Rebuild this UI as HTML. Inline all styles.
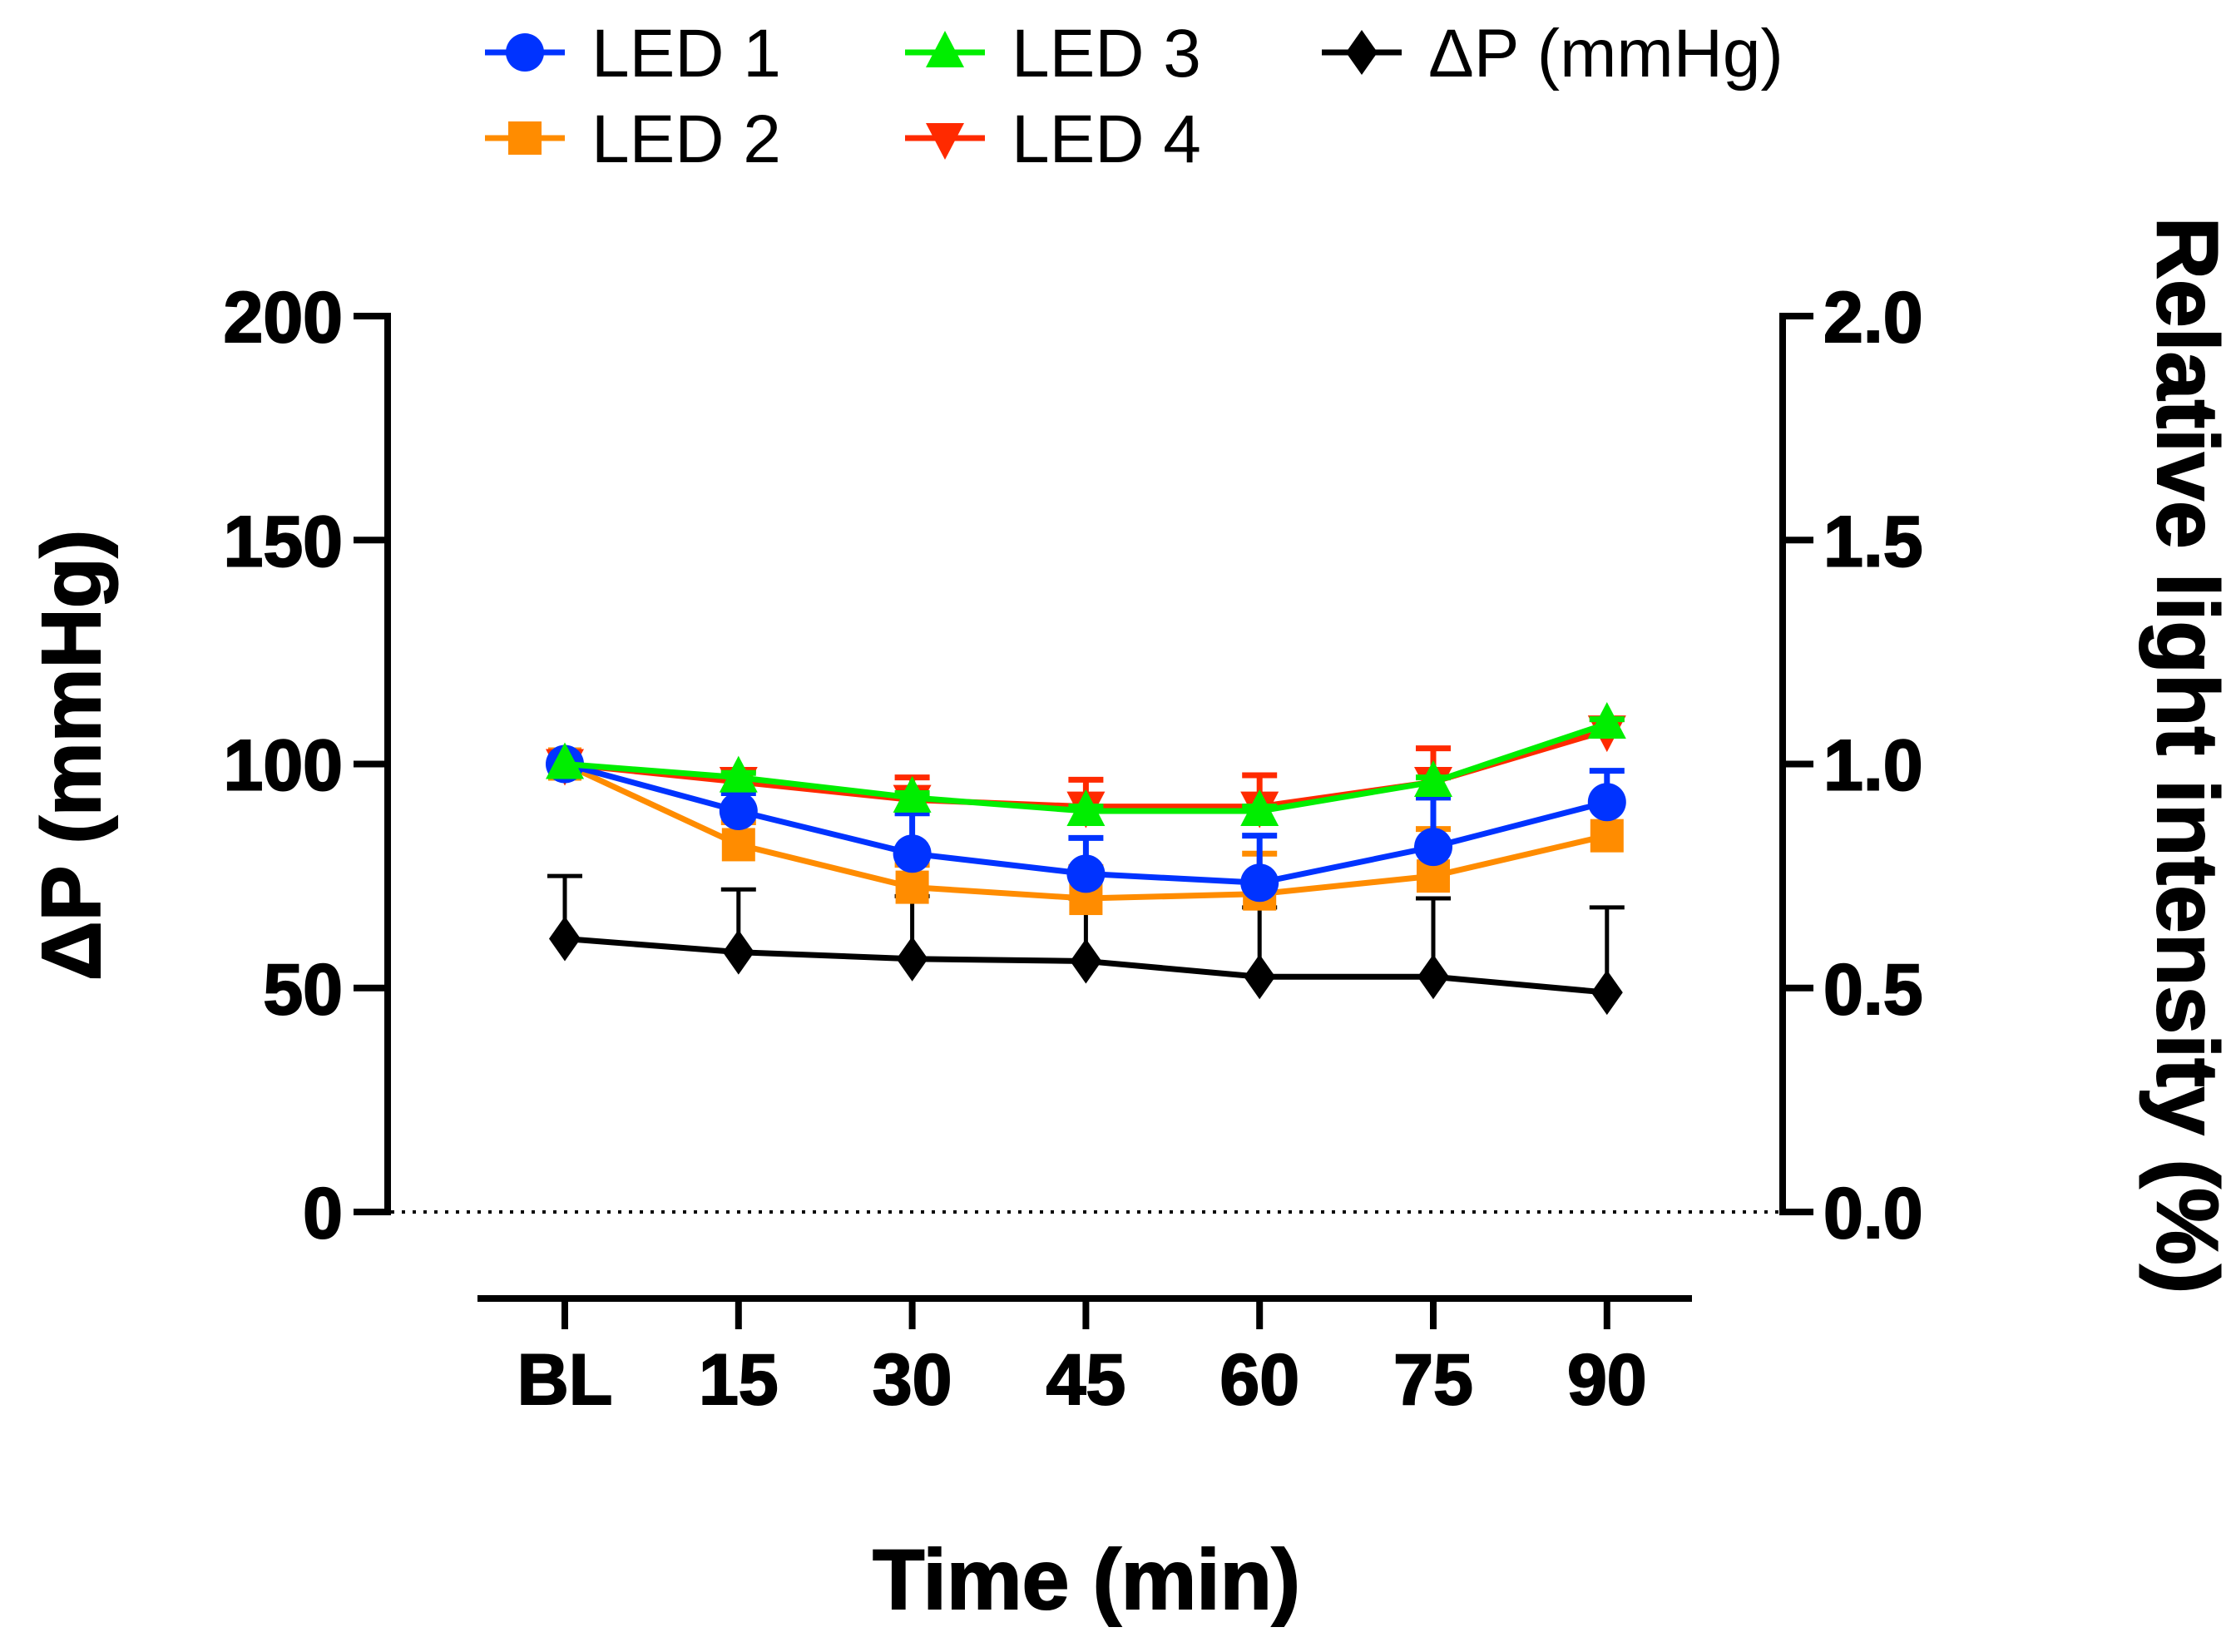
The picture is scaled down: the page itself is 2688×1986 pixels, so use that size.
<!DOCTYPE html>
<html><head><meta charset="utf-8"><style>
body{margin:0;background:#fff}
svg{display:block}
text{font-family:"Liberation Sans",Arial,sans-serif}
</style></head><body>
<svg id="chart" width="2688" height="1986" viewBox="0 0 2688 1986" xmlns="http://www.w3.org/2000/svg">
<g id="legend"></g>
<g id="axes"></g>
<g id="series"></g>
</svg>
<script>
const categories=["BL","15","30","45","60","75","90"];
const yTicks=[0,50,100,150,200];
const yTicksRight=["0.0","0.5","1.0","1.5","2.0"];
const led1=[100,89.5,80,75.5,73.5,81.5,91.5];
const led1Err=[0,4,9,8,10.5,11,7];
const led2=[100,82,72.5,70,71,75,84];
const led2Err=[0,5,5,7,9,10.5,8];
const led3=[100,97,92.5,89.5,89.5,96,109];
const led3Err=[0,1,1,1,1,1,1];
const led4=[100,96,92,90.5,90.5,96,107.5];
const led4Err=[0,2.5,5,6,7,7.5,2.5];
const dp=[61,58,56.5,56,52.5,52.5,49];
const dpErr=[14,14,14,14,15.5,17.5,19];

const NS="http://www.w3.org/2000/svg";
const X0=679,XS=208.8;
const xPos=i=>X0+i*XS;
const yPos=v=>1457-v*(1077/200);
function el(tag,attrs,parent,txt){const e=document.createElementNS(NS,tag);for(const k in attrs)e.setAttribute(k,attrs[k]);if(txt!==undefined)e.textContent=txt;parent.appendChild(e);return e;}
const axes=document.getElementById('axes');
const ser=document.getElementById('series');
const leg=document.getElementById('legend');

let a=el('line',{x1:466,y1:yPos(200)-4,x2:466,y2:yPos(0)+4,stroke:'#000','stroke-width':8},axes);


a=el('line',{x1:2143,y1:yPos(200)-4,x2:2143,y2:yPos(0)+4,stroke:'#000','stroke-width':8},axes);


a=el('line',{x1:470,y1:yPos(0),x2:2139,y2:yPos(0),stroke:'#000','stroke-width':4,'stroke-dasharray':'4 9'},axes);


yTicks.forEach((v,i)=>{
  const y=yPos(v);
  let t=el('line',{x1:425,y1:y,x2:466,y2:y,stroke:'#000','stroke-width':8},axes);
  
  
  let l=el('text',{x:412,y:y+31,'text-anchor':'end','font-size':86,'font-weight':'bold',stroke:'#000','stroke-width':2},axes,String(v));
  
  
  t=el('line',{x1:2143,y1:y,x2:2180,y2:y,stroke:'#000','stroke-width':8},axes);
  
  
  l=el('text',{x:2192,y:y+31,'text-anchor':'start','font-size':86,'font-weight':'bold',stroke:'#000','stroke-width':2},axes,yTicksRight[i]);
  
  
});
a=el('line',{x1:574,y1:1561,x2:2034,y2:1561,stroke:'#000','stroke-width':8},axes);


categories.forEach((c,i)=>{
  const x=xPos(i);
  let t=el('line',{x1:x,y1:1561,x2:x,y2:1598,stroke:'#000','stroke-width':8},axes);
  
  
  let l=el('text',{x:x,y:1688,'text-anchor':'middle','font-size':86,'font-weight':'bold',stroke:'#000','stroke-width':2},axes,c);
  
  
});
let tt=el('text',{x:1306,y:1934,'text-anchor':'middle','font-size':102,'font-weight':'bold',stroke:'#000','stroke-width':2},axes,'Time (min)');


tt=el('text',{x:0,y:0,'text-anchor':'middle','font-size':100,'font-weight':'bold',stroke:'#000','stroke-width':2,transform:'translate(120,908) rotate(-90)'},axes,'ΔP (mmHg)');


tt=el('text',{x:0,y:0,'text-anchor':'middle','font-size':104,'font-weight':'bold',stroke:'#000','stroke-width':2,transform:'translate(2594,908) rotate(90)'},axes,'Relative light intensity (%)');



function marker(type,x,y,color,g){
  let m;
  if(type==='circle')m=el('circle',{cx:x,cy:y,r:23,fill:color},g);
  else if(type==='square')m=el('rect',{x:x-20,y:y-20,width:40,height:40,fill:color},g);
  else if(type==='up')m=el('polygon',{points:`${x},${y-26} ${x-23},${y+18} ${x+23},${y+18}`,fill:color},g);
  else if(type==='down')m=el('polygon',{points:`${x},${y+26} ${x-23},${y-18} ${x+23},${y-18}`,fill:color},g);
  else m=el('polygon',{points:`${x},${y-27} ${x+19},${y} ${x},${y+27} ${x-19},${y}`,fill:color},g);
  return m;
}
function drawSeries(name,vals,errs,color,type){
  const g=el('g',{},ser);
  
  
  vals.forEach((v,i)=>{
    if(errs[i]>0){
      const x=xPos(i),y1=yPos(v),y2=yPos(v+errs[i]);
      const e=el('path',{d:`M${x},${y1}V${y2}M${x-21},${y2}H${x+21}`,stroke:color,'stroke-width':color==='#000'?5:7,fill:'none'},g);
      
      
    }
  });
  const pts=vals.map((v,i)=>xPos(i)+','+yPos(v)).join(' ');
  const ln=el('polyline',{points:pts,fill:'none',stroke:color,'stroke-width':7,'stroke-linejoin':'round'},g);
  
  
  vals.forEach((v,i)=>{
    const m=marker(type,xPos(i),yPos(v),color,g);
    
    
  });
}
drawSeries('dp',dp,dpErr,'#000','diamond');
drawSeries('led2',led2,led2Err,'#ff8c00','square');
drawSeries('led4',led4,led4Err,'#ff2a00','down');
drawSeries('led1',led1,led1Err,'#0033ff','circle');
drawSeries('led3',led3,led3Err,'#00ee00','up');

const legendItems=[["LED 1",'#0033ff','circle',631,63],["LED 2",'#ff8c00','square',631,166],["LED 3",'#00ee00','up',1136,63],["LED 4",'#ff2a00','down',1136,166],["ΔP (mmHg)",'#000','diamond',1637,63]];
legendItems.forEach(it=>{
  const g=el('g',{},leg);
  
  
  el('line',{x1:it[3]-48,y1:it[4],x2:it[3]+48,y2:it[4],stroke:it[1],'stroke-width':7},g);
  marker(it[2],it[3],it[4],it[1],g);
  el('text',{x:it[3]+80,y:it[4]+29,'font-size':82},g,it[0]);
});
</script>
</body></html>
